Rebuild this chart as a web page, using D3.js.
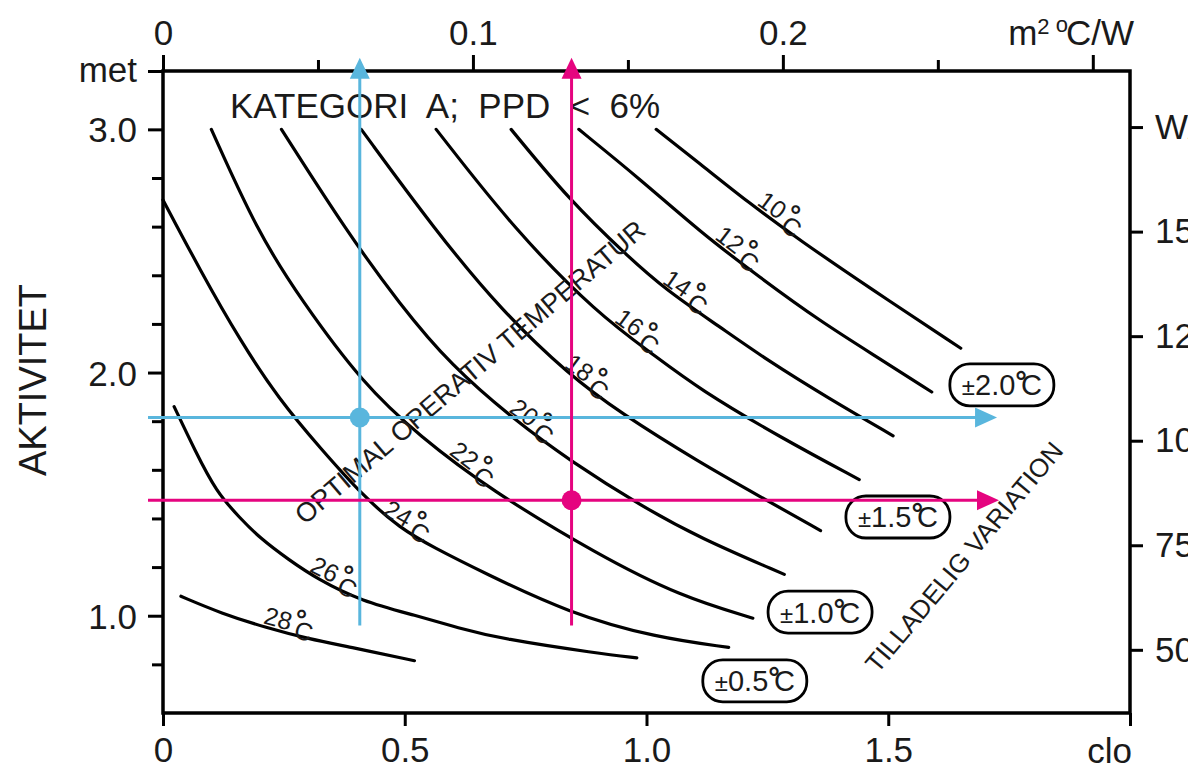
<!DOCTYPE html>
<html>
<head>
<meta charset="utf-8">
<script src="https://cdn.jsdelivr.net/npm/d3@7"></script>
<style>
  html, body { margin: 0; padding: 0; background: #fff; }
  svg { display: block; font-family: "Liberation Sans", Arial, Helvetica, sans-serif; }
</style>
</head>
<body>
<div id="chart"></div>
<script>
// operative temperatures of the curves (°C)
var temps = [10, 12, 14, 16, 18, 20, 22, 24, 26, 28];

// each curve as [clo, met] pairs
var curve10 = [[1.02, 3.0], [1.11, 2.86], [1.21, 2.70], [1.32, 2.54], [1.46, 2.35], [1.65, 2.10]];
var curve12 = [[0.86, 3.0], [0.99, 2.79], [1.11, 2.58], [1.235, 2.39], [1.36, 2.21], [1.48, 2.06], [1.59, 1.92]];
var curve14 = [[0.72, 3.0], [0.84, 2.71], [0.96, 2.48], [1.04, 2.34], [1.15, 2.19], [1.25, 2.05], [1.38, 1.89], [1.51, 1.74]];
var curve16 = [[0.565, 3.0], [0.73, 2.58], [0.90, 2.24], [1.01, 2.08], [1.11, 1.93], [1.28, 1.73], [1.44, 1.56]];
var curve18 = [[0.41, 3.0], [0.565, 2.58], [0.70, 2.255], [0.84, 1.99], [0.945, 1.835], [1.11, 1.63], [1.235, 1.49], [1.36, 1.35]];
var curve20 = [[0.245, 3.0], [0.38, 2.58], [0.49, 2.28], [0.595, 2.03], [0.73, 1.80], [0.84, 1.64], [0.99, 1.45], [1.11, 1.32], [1.285, 1.17]];
var curve22 = [[0.10, 3.0], [0.195, 2.58], [0.285, 2.30], [0.415, 1.95], [0.53, 1.74], [0.675, 1.52], [0.90, 1.25], [1.07, 1.08], [1.22, 0.99]];
var curve24 = [[0.0, 2.71], [0.077, 2.42], [0.16, 2.13], [0.24, 1.89], [0.325, 1.69], [0.415, 1.49], [0.49, 1.36], [0.56, 1.28], [0.66, 1.18], [0.84, 1.01], [1.02, 0.91], [1.17, 0.87]];
var curve26 = [[0.023, 1.86], [0.066, 1.68], [0.11, 1.51], [0.16, 1.40], [0.20, 1.32], [0.26, 1.23], [0.32, 1.15], [0.41, 1.06], [0.525, 1.0], [0.61, 0.95], [0.70, 0.905], [0.90, 0.845], [0.98, 0.827]];
var curve28 = [[0.037, 1.08], [0.12, 1.01], [0.215, 0.95], [0.30, 0.905], [0.39, 0.87], [0.52, 0.815]];
var curves = [curve10, curve12, curve14, curve16, curve18, curve20, curve22, curve24, curve26, curve28];

// clo value where each curve carries its label
var labelClo = [1.265, 1.177, 1.07, 0.97, 0.866, 0.752, 0.628, 0.495, 0.345, 0.255];

// permitted variation boxes
var variations = ["2.0", "1.5", "1.0", "0.5"];
var variationClo = [1.735, 1.52, 1.359, 1.224];
var variationMet = [1.949, 1.406, 1.015, 0.732];

// axes
var cloTicks = [0, 0.5, 1.0, 1.5, 2.0];
var cloLabels = ["0", "0.5", "1.0", "1.5", ""];
var resistTicks = [0, 0.05, 0.1, 0.15, 0.2, 0.25, 0.3];
var resistLabels = ["0", "", "0.1", "", "0.2", "", ""];
var metTicks = [0.8, 1.0, 1.2, 1.4, 1.6, 1.8, 2.0, 2.2, 2.4, 2.6, 2.8, 3.0, 3.24];
var metLabels = ["", "1.0", "", "", "", "", "2.0", "", "", "", "", "3.0", "met"];
var wattTicks = [50, 75, 100, 125, 150, 175];
var wattLabels = ["50", "75", "100", "125", "150", "W/m²"];

// two worked readings: [clo, met]
var readBlue = [0.407, 1.815];
var readPink = [0.845, 1.475];

var colors = { blue: "#59B6DD", pink: "#E5047F" };

var width = 1188, height = 771;
var svg = d3.select("#chart").append("svg")
  .attr("width", width)
  .attr("height", height);

var x = d3.scaleLinear().domain([0, 2.0]).range([163, 1130]);
var xTop = d3.scaleLinear().domain([0, 2.0 * 0.156]).range([163, 1130]);
var y = d3.scaleLinear().domain([0.6, 3.24]).range([713, 71]);
var yRight = d3.scaleLinear().domain([0.6 * 58.15, 3.24 * 58.15]).range([713, 71]);

var fs = 35;

// bottom axis (clo)
var gB = svg.append("g").attr("transform", "translate(0,713)")
  .call(d3.axisBottom(x).tickValues(cloTicks).tickSize(13).tickPadding(11)
    .tickFormat(function(d, i) { return cloLabels[i]; }));
// top axis (m2 °C/W)
var gT = svg.append("g").attr("transform", "translate(0,71)")
  .call(d3.axisTop(xTop).tickValues(resistTicks).tickSize(16).tickPadding(10)
    .tickFormat(function(d, i) { return resistLabels[i]; }));
gT.selectAll(".tick line").attr("y2", function(d, i) { return resistLabels[i] === "" && i < 6 ? -11 : -16; });
// left axis (met)
var gL = svg.append("g").attr("transform", "translate(163,0)")
  .call(d3.axisLeft(y).tickValues(metTicks).tickSize(15).tickPadding(11)
    .tickFormat(function(d, i) { return metLabels[i]; }));
gL.selectAll(".tick line").attr("x2", function(d, i) { return metLabels[i] === "" ? -11 : -15; });
gL.selectAll(".tick text").attr("dy", function(d, i) { return metLabels[i] === "met" ? "0.3em" : "0.36em"; });
// right axis (W/m2)
var gR = svg.append("g").attr("transform", "translate(1130,0)")
  .call(d3.axisRight(yRight).tickValues(wattTicks).tickSize(13).tickPadding(12)
    .tickFormat(function(d, i) { return wattLabels[i]; }));

[gB, gT, gL, gR].forEach(function(g) {
  g.select(".domain").remove();
  g.selectAll(".tick line").attr("stroke", "#000").attr("stroke-width", 3);
  g.selectAll(".tick text").attr("fill", "#1a1a1a").style("font-size", fs + "px")
    .style("font-family", "'Liberation Sans', Arial, sans-serif");
});

// unit labels
svg.append("text").attr("x", 1132).attr("y", 763).attr("text-anchor", "end")
  .style("font-size", fs + "px").attr("fill", "#1a1a1a").text("clo");
var unitTop = svg.append("text").attr("x", 1134).attr("y", 45).attr("text-anchor", "end")
  .style("font-size", fs + "px").attr("fill", "#1a1a1a");
unitTop.append("tspan").text("m");
unitTop.append("tspan").attr("dy", -11).style("font-size", "22px").text("2 ");
unitTop.append("tspan").attr("dy", -2).style("font-size", "22px").text("o");
unitTop.append("tspan").attr("dy", 13).attr("dx", -2).text("C/W");

// frame
svg.append("rect")
  .attr("x", x(0)).attr("y", y(3.24))
  .attr("width", x(2.0) - x(0)).attr("height", y(0.6) - y(3.24))
  .attr("fill", "none").attr("stroke", "#000").attr("stroke-width", 3.5);

// y axis title
svg.append("text")
  .attr("transform", "translate(46,380) rotate(-90)")
  .attr("text-anchor", "middle")
  .style("font-size", "38px").attr("fill", "#1a1a1a")
  .text("AKTIVITET");

// chart title
svg.append("text")
  .attr("x", 230).attr("y", 118)
  .style("font-size", fs + "px").style("white-space", "pre").attr("fill", "#1a1a1a")
  .text("KATEGORI  A;  PPD  <  6%");

// curves
var line = d3.line()
  .x(function(d) { return x(d[0]); })
  .y(function(d) { return y(d[1]); })
  .curve(d3.curveBasis);

svg.append("g").selectAll("path")
  .data(curves)
  .enter().append("path")
  .attr("d", line)
  .attr("fill", "none")
  .attr("stroke", "#000")
  .attr("stroke-width", 3.2)
  .attr("stroke-linecap", "round");

// curve labels, placed along each curve and rotated with it
curves.forEach(function(c, i) {
  var px = x(labelClo[i]);
  var pts = c.map(function(d) { return [x(d[0]), y(d[1])]; });
  var k = 0;
  while (k < pts.length - 2 && pts[k + 1][0] < px) k++;
  var a = pts[k], b = pts[k + 1];
  var t = (px - a[0]) / (b[0] - a[0]);
  var py = a[1] + t * (b[1] - a[1]);
  var ang = Math.atan2(b[1] - a[1], b[0] - a[0]);
  var off = 12;
  var cx = px + off * Math.sin(ang), cy = py - off * Math.cos(ang);
  var txt = svg.append("text")
    .attr("transform", "translate(" + cx + "," + cy + ") rotate(" + (ang * 180 / Math.PI) + ")")
    .attr("text-anchor", "middle")
    .attr("dy", "0.35em")
    .style("font-size", "25px")
    .attr("fill", "#1a1a1a");
  txt.append("tspan").text(temps[i]);
  txt.append("tspan").attr("dx", 2).attr("dy", -4).style("font-weight", "bold").style("font-size", "28px").text("°");
  txt.append("tspan").attr("dx", -8).attr("dy", 10).text("C");
});

// variation boxes
variations.forEach(function(v, i) {
  var cx = x(variationClo[i]), cy = y(variationMet[i]);
  var g = svg.append("g").attr("transform", "translate(" + cx + "," + cy + ")");
  g.append("rect")
    .attr("x", -52).attr("y", -21).attr("width", 104).attr("height", 42)
    .attr("rx", 20).attr("ry", 20)
    .attr("fill", "#fff").attr("stroke", "#000").attr("stroke-width", 2.8);
  var t = g.append("text").attr("text-anchor", "middle").attr("dy", "0.36em")
    .style("font-size", "29px").attr("fill", "#1a1a1a");
  t.append("tspan").style("font-size", "24px").text("±");
  t.append("tspan").text(v);
  t.append("tspan").attr("dy", -3).style("font-weight", "bold").text("°");
  t.append("tspan").attr("dx", -6).attr("dy", 3).text("C");
});

// rotated captions
svg.append("text")
  .attr("transform", "translate(470,372) rotate(-40.5)")
  .attr("text-anchor", "middle").attr("dy", "0.35em")
  .style("font-size", "27px").attr("fill", "#1a1a1a")
  .text("OPTIMAL OPERATIV TEMPERATUR");
svg.append("text")
  .attr("transform", "translate(964,557) rotate(-50)")
  .attr("text-anchor", "middle").attr("dy", "0.35em")
  .style("font-size", "26px").attr("fill", "#1a1a1a")
  .text("TILLADELIG VARIATION");

// worked readings: crossing lines with arrows and a dot
function reading(p, col, tipX) {
  var g = svg.append("g");
  var px = x(p[0]), py = y(p[1]);
  var top = y(3.295), bottom = y(0.96), left = x(-0.031), right = x(tipX);
  g.append("line").attr("x1", px).attr("x2", px).attr("y1", bottom).attr("y2", top + 18)
    .attr("stroke", col).attr("stroke-width", 3);
  g.append("line").attr("x1", left).attr("x2", right - 18).attr("y1", py).attr("y2", py)
    .attr("stroke", col).attr("stroke-width", 3);
  g.append("path")
    .attr("d", "M" + px + "," + top + "L" + (px - 10) + "," + (top + 21) + "L" + (px + 10) + "," + (top + 21) + "Z")
    .attr("fill", col);
  g.append("path")
    .attr("d", "M" + right + "," + py + "L" + (right - 22) + "," + (py - 10) + "L" + (right - 22) + "," + (py + 10) + "Z")
    .attr("fill", col);
  g.append("circle").attr("cx", px).attr("cy", py).attr("r", 10).attr("fill", col);
}
reading(readBlue, colors.blue, 1.725);
reading(readPink, colors.pink, 1.729);
</script>
</body>
</html>
